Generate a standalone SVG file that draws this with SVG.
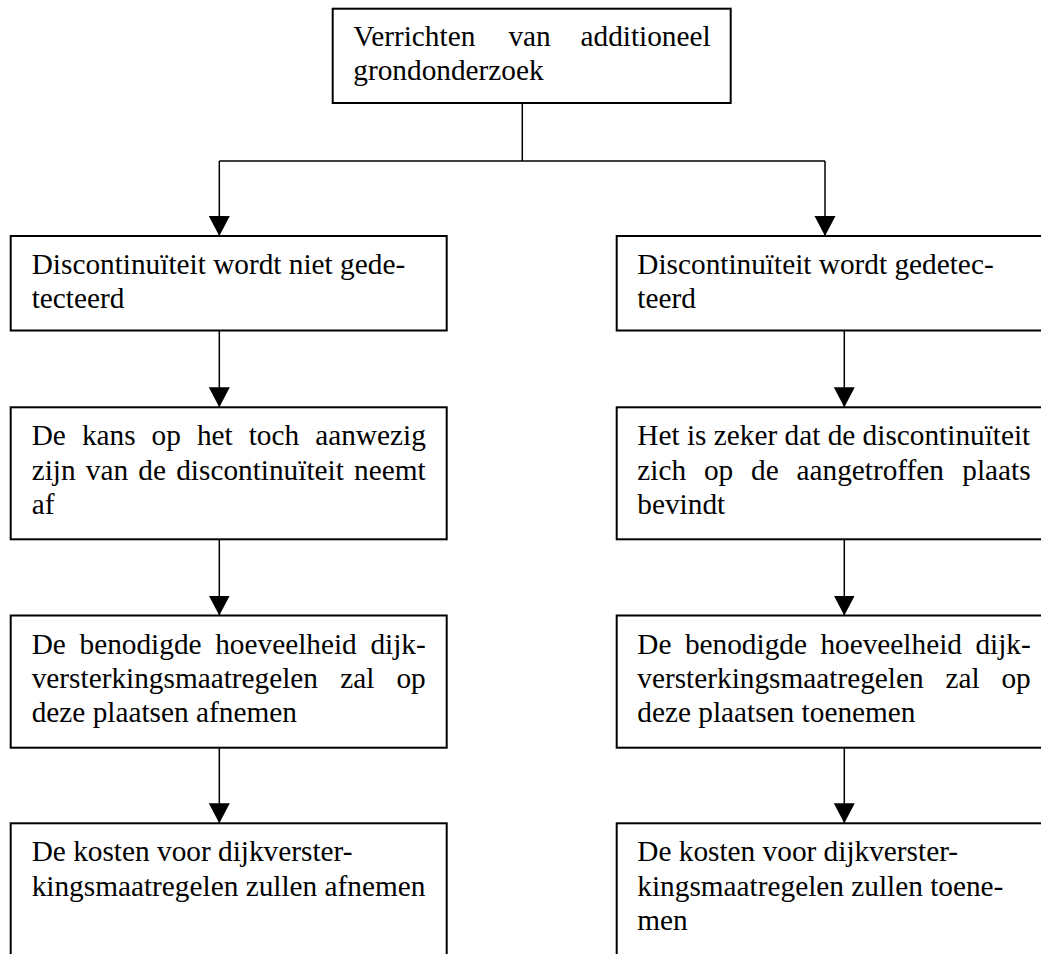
<svg xmlns="http://www.w3.org/2000/svg" width="1041" height="954" viewBox="0 0 1041 954">
  <defs>
    <marker id="arrow" markerUnits="userSpaceOnUse" markerWidth="22" markerHeight="22" viewBox="0 0 22 22" refX="20" refY="11" orient="auto">
      <path d="M0,0.5 L20,11 L0,21.5 Z" fill="#000"/>
    </marker>
    <style>
      .box { fill: #fff; stroke: #000; stroke-width: 2; }
      .conn { fill: none; stroke: #000; stroke-width: 1.5; }
      text { fill: #000; font-size: 29.3px; }
      .t { font-family: "Liberation Serif", "Times New Roman", serif; }
    </style>
  </defs>
  <rect width="1041" height="954" fill="#fff"/>

  <g id="connectors">
    <path class="conn" d="M522.3,103 V161 M219.3,161 H825"/>
    <path class="conn" d="M219.3,161 V236" marker-end="url(#arrow)"/>
    <path class="conn" d="M825,161 V236" marker-end="url(#arrow)"/>
    <path class="conn" d="M219.3,330.5 V407.3" marker-end="url(#arrow)"/>
    <path class="conn" d="M219.3,539.3 V615.5" marker-end="url(#arrow)"/>
    <path class="conn" d="M219.3,747.7 V823.3" marker-end="url(#arrow)"/>
    <path class="conn" d="M844.3,330.5 V407.3" marker-end="url(#arrow)"/>
    <path class="conn" d="M844.3,539.3 V615.5" marker-end="url(#arrow)"/>
    <path class="conn" d="M844.3,747.7 V823.3" marker-end="url(#arrow)"/>
  </g>

  <!-- justified lines are set word by word -->
  <g id="start">
    <rect class="box" x="332.7" y="8.7" width="398" height="94.3"/>
    <text class="t" y="45.7"><tspan x="353.3">Verrichten</tspan><tspan x="508.4">van</tspan><tspan x="580.5">additioneel</tspan></text>
    <text class="t" x="353.3" y="80">grondonderzoek</text>
  </g>

  <g id="not-detected">
    <rect class="box" x="10.7" y="236" width="436" height="94.5"/>
    <text class="t" x="31.7" y="274">Discontinuïteit wordt niet gede-</text>
    <text class="t" x="31.7" y="308.3">tecteerd</text>
  </g>

  <g id="chance-decreases">
    <rect class="box" x="10.7" y="407.3" width="436" height="132"/>
    <text class="t" y="445.3"><tspan x="31.7">De</tspan><tspan x="81.9">kans</tspan><tspan x="151.6">op</tspan><tspan x="196.9">het</tspan><tspan x="248.7">toch</tspan><tspan x="315.2">aanwezig</tspan></text>
    <text class="t" y="479.6"><tspan x="31.7">zijn</tspan><tspan x="85.85">van</tspan><tspan x="138.35">de</tspan><tspan x="176.2">discontinuïteit</tspan><tspan x="354.1">neemt</tspan></text>
    <text class="t" x="31.7" y="513.9">af</text>
  </g>

  <g id="measures-decrease">
    <rect class="box" x="10.7" y="615.5" width="436" height="132.2"/>
    <text class="t" y="653.5"><tspan x="31.7">De</tspan><tspan x="79.5">benodigde</tspan><tspan x="215.2">hoeveelheid</tspan><tspan x="370.4">dijk-</tspan></text>
    <text class="t" y="687.8"><tspan x="31.7">versterkingsmaatregelen</tspan><tspan x="340.15">zal</tspan><tspan x="396.4">op</tspan></text>
    <text class="t" x="31.7" y="722.1">deze plaatsen afnemen</text>
  </g>

  <g id="costs-decrease">
    <rect class="box" x="10.7" y="823.3" width="436" height="145"/>
    <text class="t" x="31.7" y="861.3">De kosten voor dijkverster-</text>
    <text class="t" x="31.7" y="895.6">kingsmaatregelen zullen afnemen</text>
  </g>

  <g id="detected">
    <rect class="box" x="616.7" y="236" width="436" height="94.5"/>
    <text class="t" x="637.3" y="274">Discontinuïteit wordt gedetec-</text>
    <text class="t" x="637.3" y="308.3">teerd</text>
  </g>

  <g id="location-certain">
    <rect class="box" x="616.7" y="407.3" width="436" height="132"/>
    <text class="t" x="637.3" y="445.3">Het is zeker dat de discontinuïteit</text>
    <text class="t" y="479.6"><tspan x="637.3">zich</tspan><tspan x="703.9">op</tspan><tspan x="751">de</tspan><tspan x="796.5">aangetroffen</tspan><tspan x="962.3">plaats</tspan></text>
    <text class="t" x="637.3" y="513.9">bevindt</text>
  </g>

  <g id="measures-increase">
    <rect class="box" x="616.7" y="615.5" width="436" height="132.2"/>
    <text class="t" y="653.5"><tspan x="637.3">De</tspan><tspan x="684.9">benodigde</tspan><tspan x="820.4">hoeveelheid</tspan><tspan x="975.4">dijk-</tspan></text>
    <text class="t" y="687.8"><tspan x="637.3">versterkingsmaatregelen</tspan><tspan x="945.45">zal</tspan><tspan x="1001.4">op</tspan></text>
    <text class="t" x="637.3" y="722.1">deze plaatsen toenemen</text>
  </g>

  <g id="costs-increase">
    <rect class="box" x="616.7" y="823.3" width="436" height="145"/>
    <text class="t" x="637.3" y="861.3">De kosten voor dijkverster-</text>
    <text class="t" x="637.3" y="895.6">kingsmaatregelen zullen toene-</text>
    <text class="t" x="637.3" y="929.9">men</text>
  </g>
</svg>
